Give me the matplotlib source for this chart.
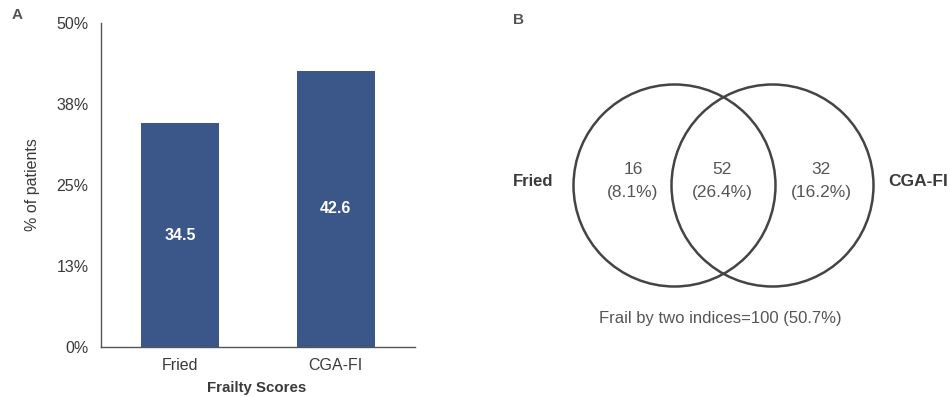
import matplotlib

matplotlib.use("Agg")

import matplotlib.pyplot as plt
from matplotlib.patches import Circle

plt.rcParams["font.family"] = ["Liberation Sans", "DejaVu Sans"]

# panel A data
categories = ["Fried", "CGA-FI"]
frail_pct = [34.5, 42.6]
y_ticks = [0, 12.5, 25, 37.5, 50]
y_tick_labels = ["0%", "13%", "25%", "38%", "50%"]

# panel B data
venn_counts = [16, 52, 32]
venn_pcts = [8.1, 26.4, 16.2]
venn_names = ["Fried", "CGA-FI"]
total_count = 100
total_pct = 50.7

TEXT = "#3a3a3a"
BAR = "#3b5688"

fig = plt.figure(figsize=(9.5, 3.97), dpi=100)

# ---- panel A: bar chart
ax = fig.add_axes([101 / 950, 1 - 347 / 397, 314 / 950, 324 / 397])
xs = range(len(categories))
ax.bar(xs, frail_pct, width=0.5, color=BAR)
for x, v in zip(xs, frail_pct):
    ax.text(x, v / 2, f"{v:g}", color="white", ha="center", va="center",
            fontsize=11.5, fontweight="bold")
ax.set_xlim(-0.51, 1.51)
ax.set_ylim(0, 50)
ax.set_yticks(y_ticks)
ax.set_yticklabels(y_tick_labels)
ax.set_xticks(list(xs))
ax.set_xticklabels(categories)
ax.tick_params(length=0, labelsize=11.5, labelcolor=TEXT)
ax.tick_params(axis="y", pad=9)
ax.tick_params(axis="x", pad=8)
for side in ["top", "right"]:
    ax.spines[side].set_visible(False)
for side in ["left", "bottom"]:
    ax.spines[side].set_color("#555555")
    ax.spines[side].set_linewidth(1.0)
ax.set_ylabel("% of patients", fontsize=11.5, color=TEXT)
ax.yaxis.set_label_coords(-0.194, 0.5)
ax.set_xlabel("Frailty Scores", fontsize=10.8, fontweight="bold", color=TEXT)
ax.xaxis.set_label_coords(0.497, -0.127)
ax.xaxis.label.set_va("center")

fig.text(17 / 950, 1 - 15 / 397, "A", fontsize=11, fontweight="bold",
         color="#555555", ha="center", va="center")

# ---- panel B: venn diagram (pixel coordinates)
bx = fig.add_axes([500 / 950, 0, 450 / 950, 1])
bx.set_xlim(500, 950)
bx.set_ylim(397, 0)
bx.axis("off")

centers = [(674.5, 185.5), (772.5, 185.5)]
for cx, cy in centers:
    bx.add_patch(Circle((cx, cy), 101.0, fill=False, edgecolor="#444444", linewidth=1.8))

region_x = [633, 722, 821]
for rx, n, p in zip(region_x, venn_counts, venn_pcts):
    bx.text(rx, 170, f"{n}", ha="center", va="center", fontsize=12.5, color="#555555")
    bx.text(rx, 192, f"({p}%)", ha="center", va="center", fontsize=12.5, color="#555555")

bx.text(533, 181, venn_names[0], ha="center", va="center", fontsize=12,
        fontweight="bold", color=TEXT)
bx.text(918, 181, venn_names[1], ha="center", va="center", fontsize=12.5,
        fontweight="bold", color=TEXT)
bx.text(720, 319, f"Frail by two indices={total_count} ({total_pct}%)",
        ha="center", va="center", fontsize=12, color="#555555")

fig.text(518 / 950, 1 - 20 / 397, "B", fontsize=11, fontweight="bold",
         color="#555555", ha="center", va="center")

fig.savefig("out.png", dpi=100)
